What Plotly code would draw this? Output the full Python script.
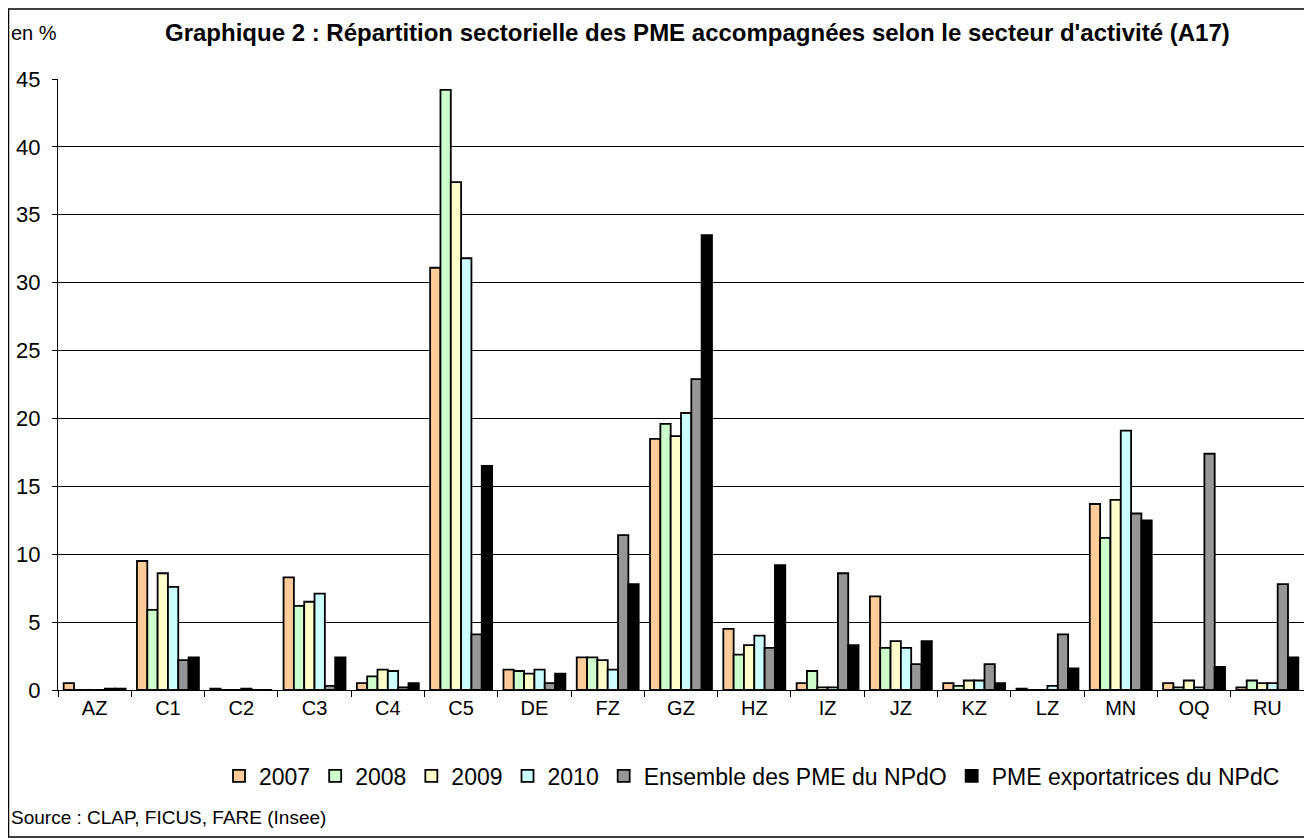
import plotly.graph_objects as go

categories = ["AZ", "C1", "C2", "C3", "C4", "C5", "DE", "FZ", "GZ", "HZ",
              "IZ", "JZ", "KZ", "LZ", "MN", "OQ", "RU"]

s2007 = [0.5, 9.5, 0.1, 8.3, 0.5, 31.1, 1.5, 2.4, 18.5, 4.5, 0.5, 6.9, 0.5, 0.1, 13.7, 0.5, 0.2]
s2008 = [0, 5.9, 0, 6.2, 1.0, 44.2, 1.4, 2.4, 19.6, 2.6, 1.4, 3.1, 0.3, 0, 11.2, 0.2, 0.7]
s2009 = [0, 8.6, 0, 6.5, 1.5, 37.4, 1.2, 2.2, 18.7, 3.3, 0.2, 3.6, 0.7, 0, 14.0, 0.7, 0.5]
s2010 = [0, 7.6, 0.1, 7.1, 1.4, 31.8, 1.5, 1.5, 20.4, 4.0, 0.2, 3.1, 0.7, 0.3, 19.1, 0.2, 0.5]
ensemble = [0.1, 2.2, 0, 0.3, 0.2, 4.1, 0.5, 11.4, 22.9, 3.1, 8.6, 1.9, 1.9, 4.1, 13.0, 17.4, 7.8]
export = [0.1, 2.4, 0, 2.4, 0.5, 16.5, 1.2, 7.8, 33.5, 9.2, 3.3, 3.6, 0.5, 1.6, 12.5, 1.7, 2.4]

series = [
    ("2007", s2007, "#FFCC99"),
    ("2008", s2008, "#CCFFCC"),
    ("2009", s2009, "#FFFFCC"),
    ("2010", s2010, "#CCFFFF"),
    ("Ensemble des PME du NPdO", ensemble, "#969696"),
    ("PME exportatrices du NPdC", export, "#000000"),
]

FONT = "Liberation Sans, Arial, sans-serif"

fig = go.Figure()
for name, vals, col in series:
    fig.add_trace(go.Bar(
        x=categories, y=vals, name=name,
        marker=dict(color=col, line=dict(color="#000000", width=1.8)),
    ))

W, H = 1312, 840
OFF = 8  # page body margin: figure appears shifted by 8px on screen
# plot area in screen pixels
SX0, SX1, SY0, SY1 = 58, 1304, 79, 690
L = SX0 - OFF
R = W - (SX1 - OFF)
T = SY0 - OFF
B = H - (SY1 - OFF)
pw, ph = W - L - R, H - T - B


def px_x(sx):
    return (sx - SX0) / pw


def px_y(sy):
    return (SY1 - sy) / ph


fig.update_layout(
    width=W, height=H,
    margin=dict(l=L, r=R, t=T, b=B, autoexpand=False),
    paper_bgcolor="white", plot_bgcolor="white",
    barmode="group", bargap=0.155, bargroupgap=0,
    font=dict(family=FONT, size=19, color="black"),
    showlegend=True,
    legend=dict(orientation="h", x=px_x(752), xanchor="center", y=px_y(776), yanchor="middle",
                font=dict(size=23), itemwidth=30, tracegroupgap=0,
                bgcolor="rgba(0,0,0,0)"),
    xaxis=dict(
        type="category", showgrid=False, showline=True, linecolor="black", linewidth=1,
        ticks="outside", ticklen=6, tickcolor="black", tickson="boundaries",
        tickfont=dict(size=20), zeroline=False, automargin=False,
    ),
    yaxis=dict(
        range=[0, 45], dtick=5, showgrid=True, gridcolor="#000000", gridwidth=1,
        showline=True, linecolor="black", linewidth=1, ticks="outside", ticklen=5,
        tickcolor="black", tickfont=dict(size=22), zeroline=False, automargin=False,
        ticklabelstandoff=7,
    ),
    shapes=[dict(type="rect", xref="paper", yref="paper",
                 x0=px_x(8.5), x1=px_x(1305), y0=px_y(837), y1=px_y(9),
                 line=dict(color="black", width=1.5), fillcolor="rgba(0,0,0,0)")],
    annotations=[
        dict(text="en %", xref="paper", yref="paper", x=px_x(9), y=px_y(33),
             xanchor="left", yanchor="middle", showarrow=False, font=dict(size=20)),
        dict(text="<b>Graphique 2 : Répartition sectorielle des PME accompagnées selon le secteur d'activité (A17)</b>",
             xref="paper", yref="paper", x=px_x(697), y=px_y(33),
             xanchor="center", yanchor="middle", showarrow=False, font=dict(size=24)),
        dict(text="Source : CLAP, FICUS, FARE (Insee)", xref="paper", yref="paper",
             x=px_x(9), y=px_y(817), xanchor="left", yanchor="middle",
             showarrow=False, font=dict(size=19)),
    ],
)

fig.write_html("out.html")
